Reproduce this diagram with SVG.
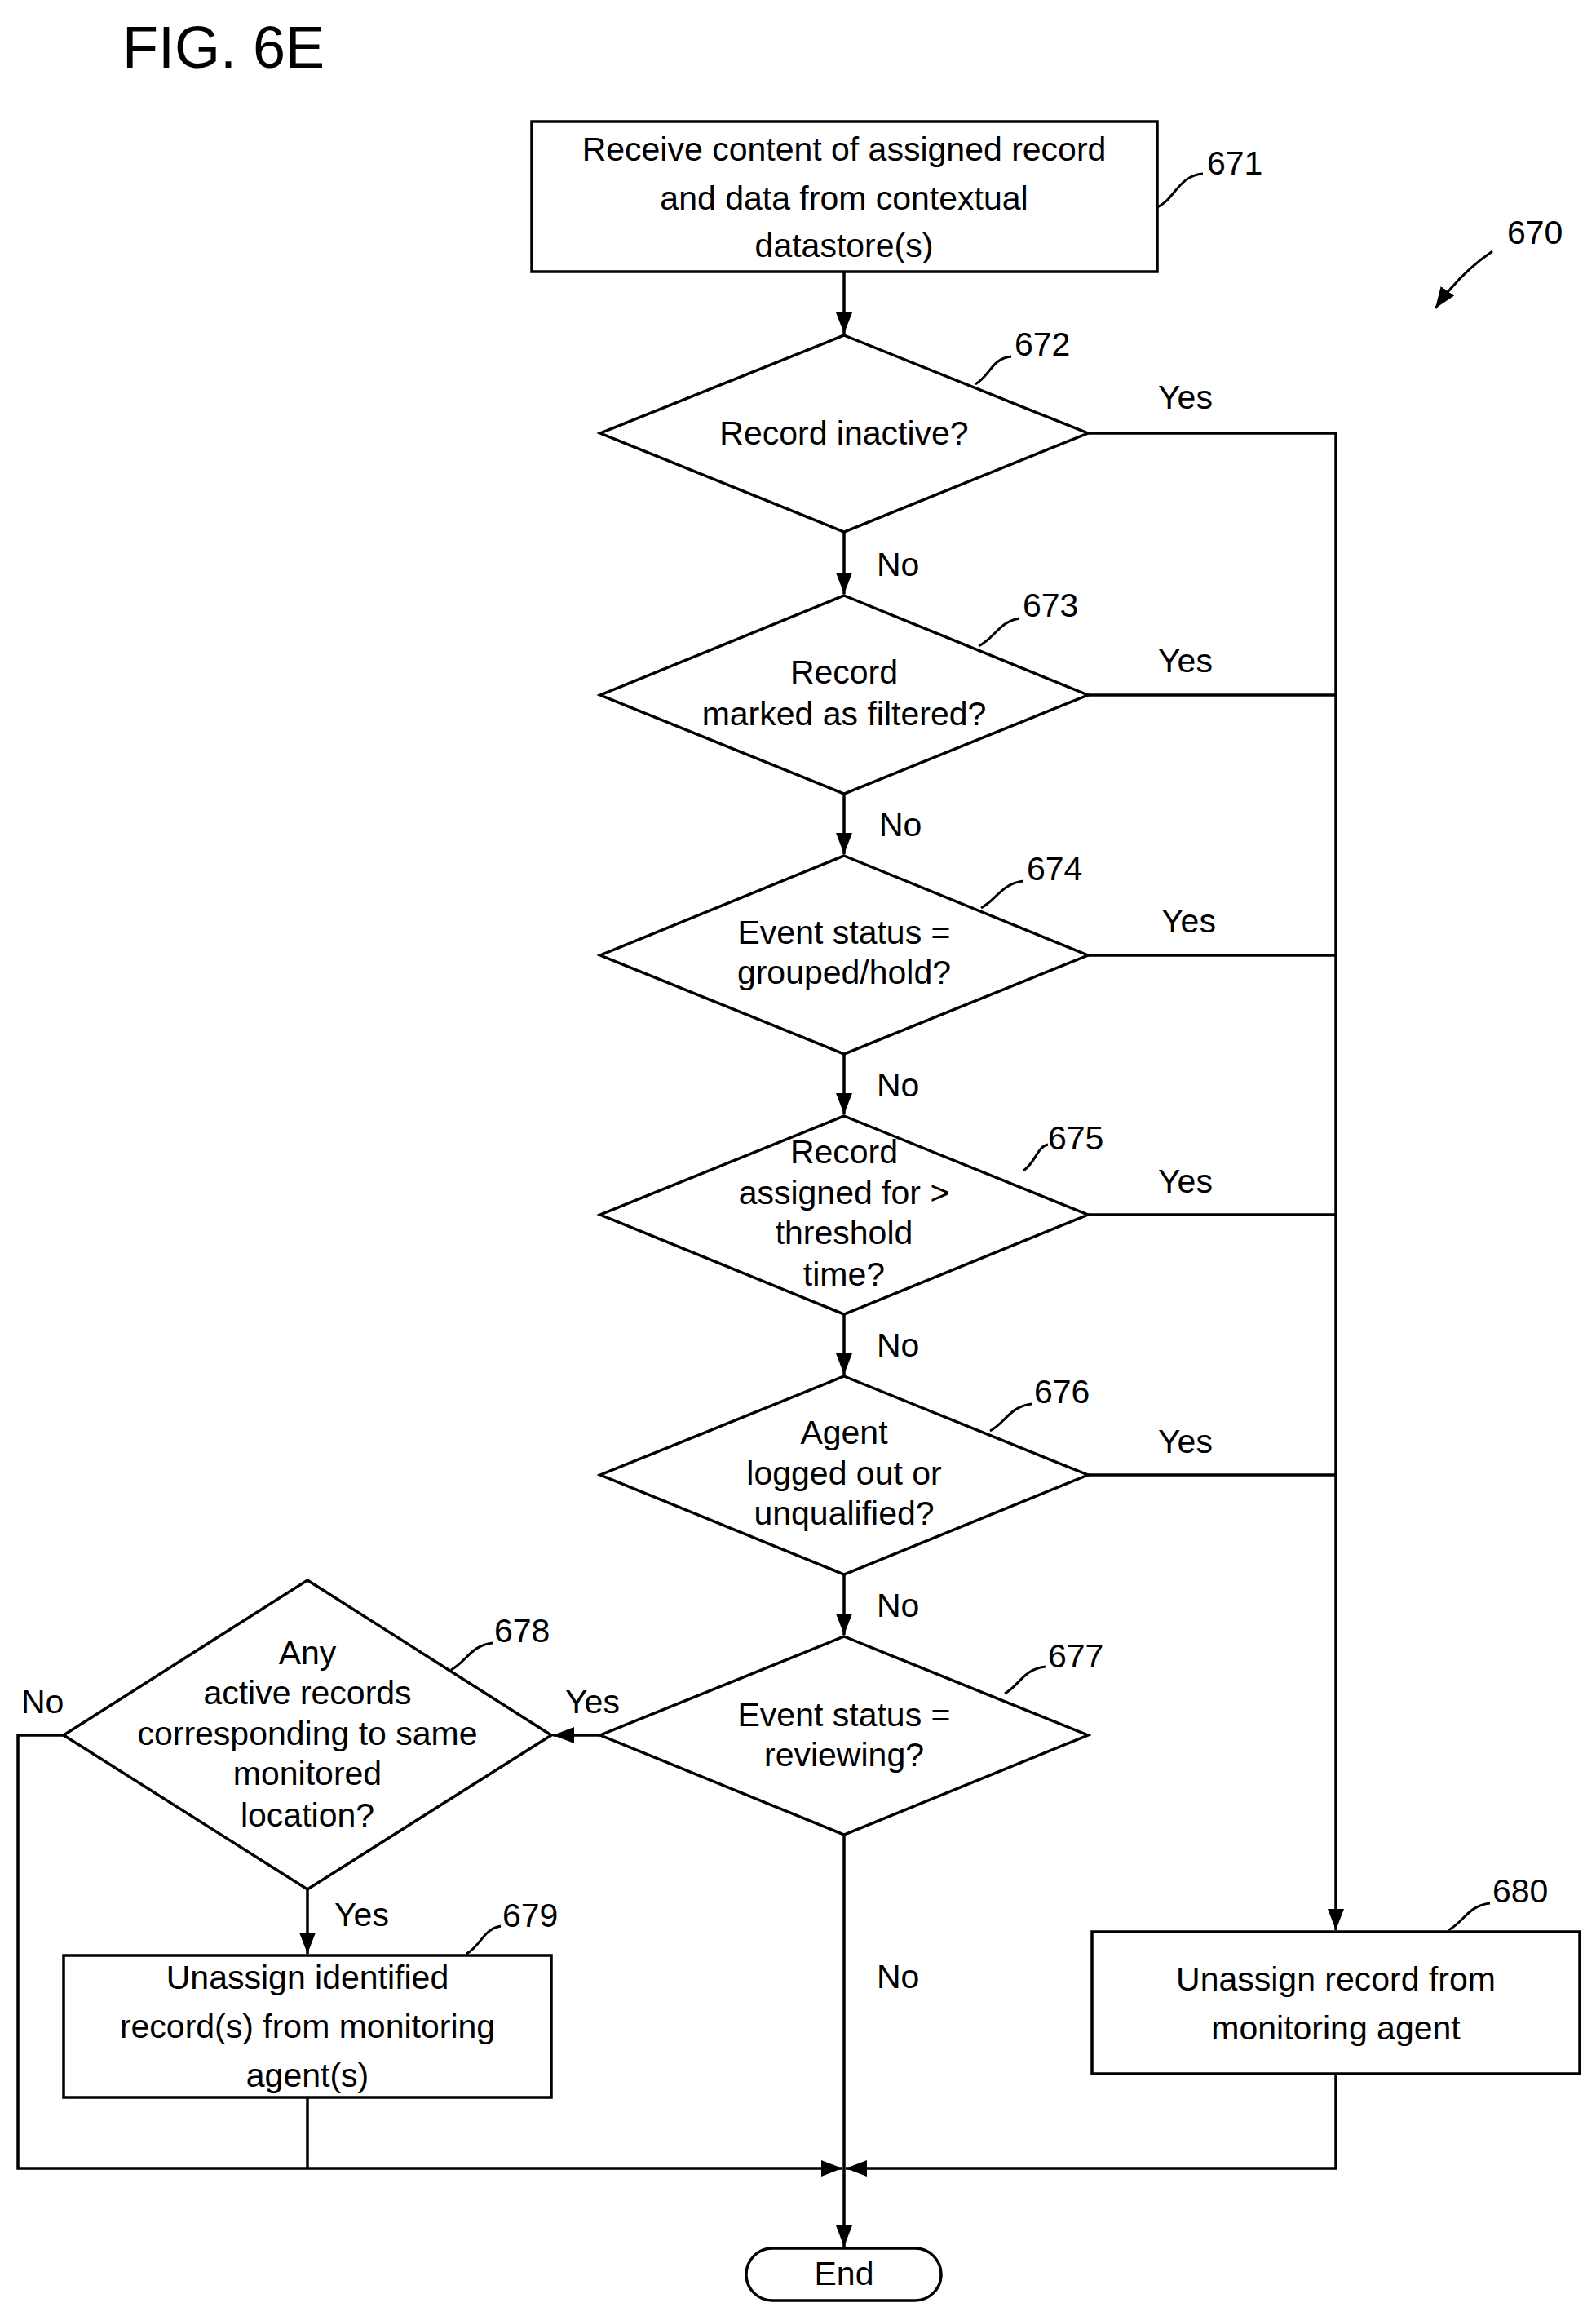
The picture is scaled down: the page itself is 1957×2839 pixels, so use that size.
<svg xmlns="http://www.w3.org/2000/svg" width="1957" height="2839" viewBox="0 0 1957 2839">
<style>
text{font-family:"Liberation Sans",Arial,sans-serif;font-size:41px;fill:#000;text-anchor:middle;dominant-baseline:central}
.s{fill:#fff;stroke:#000;stroke-width:3.5}
.c{fill:none;stroke:#000;stroke-width:3.5}
.l{fill:none;stroke:#000;stroke-width:3}
.n{text-anchor:start}
</style>
<defs><marker id="a" viewBox="0 0 10 10" refX="10" refY="5" markerWidth="7" markerHeight="9" markerUnits="userSpaceOnUse" orient="auto" style="overflow:visible"><path d="M0,0L10,5L0,10z" transform="scale(2.6)" fill="#000"/></marker>
<marker id="b" viewBox="0 0 26 26" refX="26" refY="13" markerWidth="26" markerHeight="26" markerUnits="userSpaceOnUse" orient="auto"><path d="M0,3L26,13L0,23z" fill="#000"/></marker></defs>
<rect width="1957" height="2839" fill="#fff"/>
<text x="150" y="58" class="n" style="font-size:72px">FIG. 6E</text>
<g id="connectors">
<path class="c" d="M1035,333V409" marker-end="url(#b)"/>
<path class="c" d="M1035,652V728" marker-end="url(#b)"/>
<path class="c" d="M1035,973V1047" marker-end="url(#b)"/>
<path class="c" d="M1035,1292V1366" marker-end="url(#b)"/>
<path class="c" d="M1035,1611V1685" marker-end="url(#b)"/>
<path class="c" d="M1035,1930V2004" marker-end="url(#b)"/>
<path class="c" d="M1334,531H1638V2366" marker-end="url(#b)"/>
<path class="c" d="M1334,852H1638M1334,1171H1638M1334,1489H1638M1334,1808H1638"/>
<path class="c" d="M736,2127H678" marker-end="url(#b)"/>
<path class="c" d="M377,2316V2395" marker-end="url(#b)"/>
<path class="c" d="M78,2127H22V2658H1033" marker-end="url(#b)"/>
<path class="c" d="M377,2571V2658"/>
<path class="c" d="M1638,2542V2658H1037" marker-end="url(#b)"/>
<path class="c" d="M1035,2249V2754" marker-end="url(#b)"/>
<path class="l" d="M1830,308Q1790,335 1760,378" marker-end="url(#b)"/>
</g>
<g id="n671"><rect class="s" x="652" y="149" width="767" height="184"/><text x="1035" y="183">Receive content of assigned record</text><text x="1035" y="243">and data from contextual</text><text x="1035" y="301">datastore(s)</text><path class="l" d="M1419,254C1440,245 1445,215 1475,213"/><text class="n" x="1480" y="200">671</text></g>
<g id="n672"><path class="s" d="M1035,411L1334,531L1035,652L736,531z"/><text x="1035" y="531">Record inactive?</text><path class="l" d="M1196,471C1215,460 1215,440 1240,437"/><text class="n" x="1244" y="422">672</text><text class="n" x="1420" y="487">Yes</text><text class="n" x="1075" y="692">No</text></g>
<g id="n673"><path class="s" d="M1035,730L1334,852L1035,973L736,852z"/><text x="1035" y="824">Record</text><text x="1035" y="875">marked as filtered?</text><path class="l" d="M1200,792C1220,782 1225,762 1250,758"/><text class="n" x="1254" y="742">673</text><text class="n" x="1420" y="810">Yes</text><text class="n" x="1078" y="1011">No</text></g>
<g id="n674"><path class="s" d="M1035,1049L1334,1171L1035,1292L736,1171z"/><text x="1035" y="1143">Event status =</text><text x="1035" y="1192">grouped/hold?</text><path class="l" d="M1203,1113C1222,1103 1228,1083 1255,1080"/><text class="n" x="1259" y="1065">674</text><text class="n" x="1424" y="1129">Yes</text><text class="n" x="1075" y="1330">No</text></g>
<g id="n675"><path class="s" d="M1035,1368L1334,1489L1035,1611L736,1489z"/><text x="1035" y="1412">Record</text><text x="1035" y="1462">assigned for &gt;</text><text x="1035" y="1511">threshold</text><text x="1035" y="1562">time?</text><path class="l" d="M1255,1435C1270,1425 1272,1405 1285,1403"/><text class="n" x="1285" y="1395">675</text><text class="n" x="1420" y="1448">Yes</text><text class="n" x="1075" y="1649">No</text></g>
<g id="n676"><path class="s" d="M1035,1687L1334,1808L1035,1930L736,1808z"/><text x="1035" y="1756">Agent</text><text x="1035" y="1806">logged out or</text><text x="1035" y="1855">unqualified?</text><path class="l" d="M1214,1754C1233,1744 1238,1724 1265,1721"/><text class="n" x="1268" y="1706">676</text><text class="n" x="1420" y="1767">Yes</text><text class="n" x="1075" y="1968">No</text></g>
<g id="n677"><path class="s" d="M1035,2006L1334,2127L1035,2249L736,2127z"/><text x="1035" y="2102">Event status =</text><text x="1035" y="2151">reviewing?</text><path class="l" d="M1232,2076C1250,2066 1255,2046 1282,2043"/><text class="n" x="1285" y="2030">677</text><text class="n" x="693" y="2086">Yes</text><text class="n" x="1075" y="2423">No</text></g>
<g id="n678"><path class="s" d="M377,1937L676,2127L377,2316L78,2127z"/><text x="377" y="2026">Any</text><text x="377" y="2075">active records</text><text x="377" y="2125">corresponding to same</text><text x="377" y="2174">monitored</text><text x="377" y="2225">location?</text><path class="l" d="M553,2047C572,2037 577,2017 604,2014"/><text class="n" x="606" y="1999">678</text><text class="n" x="26" y="2086">No</text><text class="n" x="410" y="2347">Yes</text></g>
<g id="n679"><rect class="s" x="78" y="2397" width="598" height="174"/><text x="377" y="2424">Unassign identified</text><text x="377" y="2484">record(s) from monitoring</text><text x="377" y="2544">agent(s)</text><path class="l" d="M572,2395C590,2385 592,2365 614,2361"/><text class="n" x="616" y="2348">679</text></g>
<g id="n680"><rect class="s" x="1339" y="2368" width="598" height="174"/><text x="1638" y="2426">Unassign record from</text><text x="1638" y="2486">monitoring agent</text><path class="l" d="M1776,2366C1795,2356 1800,2336 1827,2333"/><text class="n" x="1830" y="2318">680</text></g>
<g id="n670"><text class="n" x="1848" y="285">670</text></g>
<g id="end"><rect class="s" x="915" y="2756" width="239" height="64" rx="32"/><text x="1035" y="2787">End</text></g>
</svg>
